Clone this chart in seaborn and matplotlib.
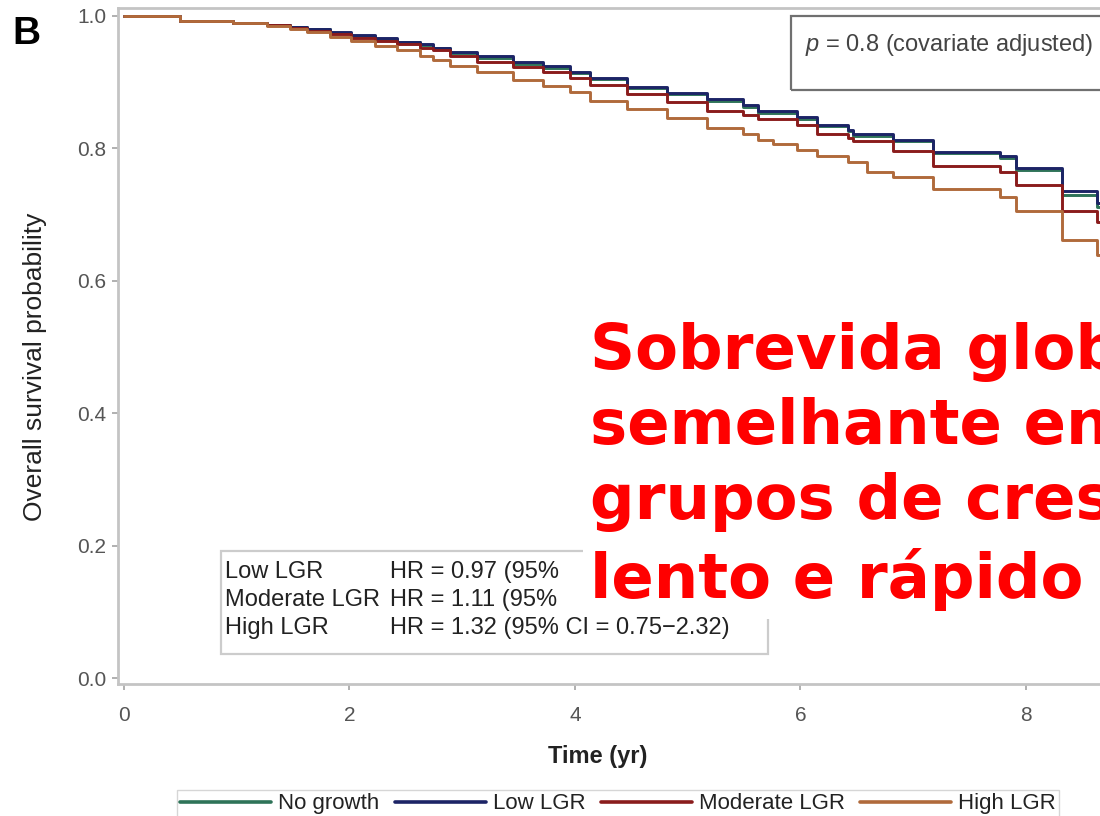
import matplotlib
matplotlib.use("Agg")
import matplotlib.pyplot as plt
from matplotlib.patches import Rectangle
import numpy as np
import pandas as pd
import seaborn as sns

# ---------------- data ----------------
groups = ["No growth", "Low LGR", "Moderate LGR", "High LGR"]
colors = ["#2e7358", "#1c2466", "#8a1c1c", "#b06a3b"]

t_common = [0, 0.50, 0.97, 1.27, 1.47, 1.62, 1.83, 2.01, 2.23, 2.42, 2.63, 2.74,
            2.89, 3.13, 3.45, 3.72, 3.96, 4.13, 4.46, 4.82, 5.17, 5.49, 5.62, 5.97,
            6.15, 6.42, 6.47, 6.82, 7.18, 7.77, 7.91, 8.32, 8.63, 9.10]
surv_no_growth = [1.000, .992, .990, .987, .983, .980, .974, .970, .965, .960, .956, .951,
                  .944, .937, .928, .922, .914, .905, .891, .882, .872, .862, .853, .845,
                  .834, .826, .819, .811, .793, .786, .768, .730, .712, .712]
surv_low = [1.000, .992, .990, .987, .984, .981, .975, .971, .966, .961, .957, .952,
            .945, .939, .930, .924, .916, .907, .893, .884, .874, .865, .856, .847,
            .836, .828, .821, .813, .795, .788, .771, .735, .718, .718]
surv_moderate = [1.000, .992, .990, .986, .982, .978, .972, .967, .962, .957, .952, .948,
                 .939, .931, .923, .915, .907, .895, .882, .870, .857, .850, .844, .835,
                 .822, .815, .811, .796, .774, .764, .745, .706, .689, .689]
t_high = [0, 0.50, 0.97, 1.27, 1.47, 1.62, 1.83, 2.01, 2.23, 2.42, 2.63, 2.74,
          2.89, 3.13, 3.45, 3.72, 3.96, 4.13, 4.46, 4.82, 5.17, 5.49, 5.62, 5.76,
          5.97, 6.15, 6.42, 6.59, 6.82, 7.18, 7.77, 7.91, 8.32, 8.63, 9.10]
surv_high = [1.000, .992, .989, .985, .980, .975, .968, .962, .955, .948, .940, .934,
             .924, .916, .904, .894, .885, .871, .859, .846, .831, .821, .813, .806,
             .798, .788, .779, .765, .756, .738, .727, .706, .662, .639, .639]

x_ticks = [0, 2, 4, 6, 8]
y_ticks = [0.0, 0.2, 0.4, 0.6, 0.8, 1.0]

hr_labels = ["Low LGR", "Moderate LGR", "High LGR"]
hr_texts = ["HR = 0.97 (95%", "HR = 1.11 (95%", "HR = 1.32 (95% CI = 0.75\u22122.32)"]
p_text = r"$p$ = 0.8 (covariate adjusted)"
overlay_text = "Sobrevida global\nsemelhante entre\ngrupos de crescimento\nlento e rápido"

frames = []
for g, t, s in [(groups[0], t_common, surv_no_growth), (groups[1], t_common, surv_low),
                (groups[2], t_common, surv_moderate), (groups[3], t_high, surv_high)]:
    frames.append(pd.DataFrame({"time": t, "surv": s, "group": g}))
df = pd.concat(frames, ignore_index=True)

# ---------------- style ----------------
sns.set_theme(style="white")
plt.rcParams["font.family"] = ["Liberation Sans", "DejaVu Sans"]
plt.rcParams["mathtext.fontset"] = "custom"
plt.rcParams["mathtext.it"] = "Liberation Sans:italic"
plt.rcParams["mathtext.rm"] = "Liberation Sans"

W, H = 1100, 816
fig = plt.figure(figsize=(W / 100, H / 100), dpi=100)
fig.patch.set_facecolor("white")

ax_left, ax_right_px, ax_top, ax_bottom = 118, 1195, 8, 684
ax = fig.add_axes([ax_left / W, 1 - ax_bottom / H, (ax_right_px - ax_left) / W,
                   (ax_bottom - ax_top) / H])

sns.lineplot(data=df, x="time", y="surv", hue="group", hue_order=groups,
             palette=colors, estimator=None, drawstyle="steps-post",
             linewidth=2.1, ax=ax)

ax.set_xticks(x_ticks)
ax.set_yticks(y_ticks)
ax.set_yticklabels([f"{v:.1f}" for v in y_ticks])
ax.set_xlim(-0.053, 9.5)
ax.set_ylim(-0.009, 1.012)
spine_c = "#c4c4c4"
for side in ["left", "bottom", "top", "right"]:
    ax.spines[side].set_color(spine_c)
    ax.spines[side].set_linewidth(2.0)
ax.tick_params(axis="both", which="major", direction="out", length=4.5, width=1.4,
               color="#b0b0b0", labelcolor="#555555", labelsize=15, left=True, bottom=True)
ax.tick_params(axis="x", pad=11)
ax.tick_params(axis="y", pad=4)

ax.set_xlabel("Time (yr)", fontsize=17, fontweight="bold", color="#222222")
ax.set_ylabel("Overall survival probability", fontsize=19, color="#222222")
axw = ax_right_px - ax_left
axh = ax_bottom - ax_top
ax.xaxis.set_label_coords((598 - ax_left) / axw, (ax_bottom - 757) / axh)
ax.xaxis.label.set_va("center")
ax.yaxis.set_label_coords((35 - ax_left) / axw, (ax_bottom - 367) / axh)
ax.yaxis.label.set_va("center")

# legend
sns.move_legend(ax, "upper center", bbox_to_anchor=(618 / W, 1 - 790 / H),
                bbox_transform=fig.transFigure, ncol=4, title=None, frameon=True,
                fontsize=16, handlelength=4.1, handletextpad=0.3, columnspacing=0.7,
                borderpad=0.15, borderaxespad=0.0, fancybox=False, edgecolor="#cccccc")
leg = ax.get_legend()
for txt in leg.get_texts():
    txt.set_color("#222222")
for ln in leg.get_lines():
    ln.set_linewidth(2.6)

# panel letter
fig.text(12 / W, 1 - 44 / H, "B", fontsize=28, fontweight="bold", color="black",
         va="baseline", ha="left", family="Liberation Sans")

# p-value box
fig.add_artist(Rectangle((791 / W, 1 - 90 / H), 340 / W, 74 / H, transform=fig.transFigure,
                         fill=False, edgecolor="#707070", linewidth=1.6, zorder=2))
fig.text(805 / W, 1 - 45 / H, p_text, fontsize=17, color="#444444", va="center",
         ha="left", zorder=2)

# HR box
fig.add_artist(Rectangle((221 / W, 1 - 654 / H), 547 / W, 103 / H, transform=fig.transFigure,
                         facecolor="white", edgecolor="#cccccc", linewidth=1.6, zorder=2))
row_y = [572, 600, 628]
for lab, hr, y in zip(hr_labels, hr_texts, row_y):
    fig.text(225 / W, 1 - y / H, lab, fontsize=17, color="#222222", va="center",
             ha="left", zorder=5)
    fig.text(390 / W, 1 - y / H, hr, fontsize=17, color="#222222", va="center",
             ha="left", zorder=5)

# overlay red annotation
fig.text(590 / W, 1 - 322 / H, overlay_text, fontsize=45, fontweight="bold",
         color="#ff0000", family="DejaVu Sans", va="top", ha="left", linespacing=1.32,
         zorder=4, bbox=dict(boxstyle="square,pad=0.12", facecolor="white",
                             edgecolor="none"))

fig.savefig("out.png", dpi=100)
